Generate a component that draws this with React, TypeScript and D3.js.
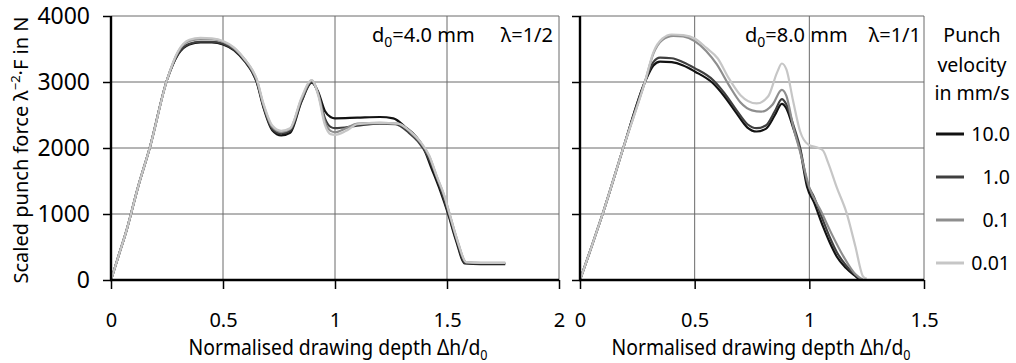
import React, { useEffect, useRef } from "react"
import * as d3 from "d3"

type Pt = [number, number]

// punch velocity series (mm/s) and their grey tones
const velocities = ["10.0", "1.0", "0.1", "0.01"]
const greys = ["#121212", "#3f3f3f", "#8e8e8e", "#c6c6c6"]

const yTicks = [0, 1000, 2000, 3000, 4000]
const leftTicks = [0, 0.5, 1, 1.5, 2]
const rightTicks = [0, 0.5, 1, 1.5]

// d0 = 4.0 mm, lambda = 1/2
const left10: Pt[] = [[0,0],[0.035,380],[0.07,760],[0.12,1400],[0.174,2015],[0.25,3030],[0.3,3420],[0.35,3570],[0.4,3600],[0.45,3600],[0.5,3570],[0.55,3480],[0.6,3300],[0.63,3150],[0.65,3000],[0.68,2620],[0.72,2270],[0.76,2190],[0.8,2230],[0.85,2700],[0.896,2990],[0.925,2850],[0.955,2560],[0.98,2470],[1.0,2450],[1.1,2460],[1.2,2470],[1.26,2450],[1.32,2300],[1.36,2180],[1.393,2020],[1.43,1700],[1.47,1350],[1.505,1000],[1.54,600],[1.58,250],[1.65,240],[1.76,240]]
const left1: Pt[] = [[0,0],[0.035,380],[0.07,760],[0.12,1400],[0.174,2015],[0.25,3030],[0.3,3430],[0.35,3580],[0.4,3610],[0.45,3610],[0.5,3580],[0.55,3490],[0.6,3310],[0.63,3160],[0.65,3010],[0.68,2640],[0.72,2290],[0.76,2220],[0.8,2260],[0.85,2710],[0.896,3000],[0.925,2830],[0.955,2450],[0.98,2320],[1.0,2300],[1.1,2340],[1.2,2370],[1.27,2360],[1.33,2230],[1.37,2100],[1.41,1900],[1.45,1580],[1.48,1300],[1.51,970],[1.545,580],[1.58,260],[1.65,250],[1.76,250]]
const left01: Pt[] = [[0,0],[0.035,380],[0.07,760],[0.12,1400],[0.174,2015],[0.25,3030],[0.3,3460],[0.35,3620],[0.4,3650],[0.45,3650],[0.5,3610],[0.55,3510],[0.6,3330],[0.63,3180],[0.65,3040],[0.68,2660],[0.72,2320],[0.76,2240],[0.8,2290],[0.85,2740],[0.896,3020],[0.925,2820],[0.955,2400],[0.98,2260],[1.0,2240],[1.05,2300],[1.1,2370],[1.2,2380],[1.28,2370],[1.34,2230],[1.38,2090],[1.42,1880],[1.455,1560],[1.49,1250],[1.515,960],[1.55,560],[1.585,270],[1.65,260],[1.76,260]]
const left001: Pt[] = [[0,0],[0.035,380],[0.07,760],[0.12,1400],[0.174,2015],[0.25,3030],[0.3,3470],[0.35,3640],[0.4,3670],[0.45,3660],[0.5,3620],[0.55,3520],[0.6,3330],[0.63,3190],[0.65,3050],[0.68,2680],[0.72,2340],[0.76,2260],[0.8,2300],[0.85,2760],[0.896,3030],[0.925,2800],[0.955,2350],[0.98,2210],[1.0,2200],[1.05,2260],[1.1,2360],[1.2,2380],[1.28,2370],[1.34,2240],[1.38,2100],[1.42,1890],[1.455,1570],[1.49,1260],[1.515,960],[1.55,560],[1.585,270],[1.65,260],[1.76,260]]

// d0 = 8.0 mm, lambda = 1/1
const right10: Pt[] = [[0,0],[0.05,500],[0.1,1015],[0.19,2015],[0.283,3000],[0.32,3250],[0.349,3310],[0.4,3300],[0.45,3250],[0.5,3160],[0.58,2980],[0.63,2780],[0.683,2525],[0.73,2310],[0.77,2250],[0.81,2290],[0.85,2500],[0.88,2670],[0.9,2600],[0.93,2300],[0.96,1970],[0.99,1415],[1.02,1180],[1.06,808],[1.09,560],[1.12,353],[1.16,180],[1.207,40],[1.22,0]]
const right1: Pt[] = [[0,0],[0.05,500],[0.1,1015],[0.19,2015],[0.283,3000],[0.32,3300],[0.349,3370],[0.4,3360],[0.45,3300],[0.5,3210],[0.58,3030],[0.63,2830],[0.683,2570],[0.73,2360],[0.77,2300],[0.81,2340],[0.85,2560],[0.88,2740],[0.9,2660],[0.93,2350],[0.96,2000],[0.99,1480],[1.02,1260],[1.06,900],[1.09,640],[1.12,420],[1.16,220],[1.21,50],[1.225,0]]
const right01: Pt[] = [[0,0],[0.05,500],[0.1,1015],[0.19,2015],[0.283,3000],[0.32,3430],[0.36,3640],[0.407,3700],[0.45,3690],[0.5,3620],[0.55,3470],[0.596,3270],[0.65,2950],[0.7,2690],[0.75,2570],[0.79,2550],[0.84,2660],[0.88,2880],[0.9,2790],[0.93,2320],[0.96,1940],[1.0,1400],[1.05,1050],[1.1,680],[1.15,350],[1.2,90],[1.235,0]]
const right001: Pt[] = [[0,0],[0.05,500],[0.1,1015],[0.19,2015],[0.283,3000],[0.32,3450],[0.36,3660],[0.4,3720],[0.45,3710],[0.5,3660],[0.55,3520],[0.6,3360],[0.65,3050],[0.7,2800],[0.77,2675],[0.82,2780],[0.86,3150],[0.88,3280],[0.9,3190],[0.93,2700],[0.96,2250],[0.996,2050],[1.04,2000],[1.06,1960],[1.083,1768],[1.12,1400],[1.163,1010],[1.2,520],[1.235,50],[1.25,20]]

const leftSeries = [left10, left1, left01, left001]
const rightSeries = [right10, right1, right01, right001]

const font = "'Noto Sans', 'Open Sans', sans-serif"

export default function App() {
  const ref = useRef<SVGSVGElement>(null)

  useEffect(() => {
    const svg = d3.select(ref.current)
    svg.selectAll("*").remove()

    const y = d3.scaleLinear().domain([0, 4000]).range([280, 16])

    const panels = [
      { x: d3.scaleLinear().domain([0, 2]).range([111, 559]), ticks: leftTicks, series: leftSeries, labels: true,
        note: "4.0 mm", lam: "λ=1/2", noteX: 372, lamX: 553, titleX: 338 },
      { x: d3.scaleLinear().domain([0, 1.5]).range([580, 924]), ticks: rightTicks, series: rightSeries, labels: false,
        note: "8.0 mm", lam: "λ=1/1", noteX: 745, lamX: 921, titleX: 761 },
    ]

    panels.forEach((p) => {
      const g = svg.append("g")
      const [x0, x1] = p.x.range()

      // grid
      g.append("g").selectAll("line").data(yTicks.slice(1)).enter().append("line")
        .attr("x1", x0).attr("x2", x1).attr("y1", d => y(d)).attr("y2", d => y(d))
        .attr("stroke", "#6a6a6a").attr("stroke-width", 1)
      g.append("g").selectAll("line").data(p.ticks.slice(1)).enter().append("line")
        .attr("x1", d => p.x(d)).attr("x2", d => p.x(d)).attr("y1", y(4000)).attr("y2", y(0))
        .attr("stroke", "#6a6a6a").attr("stroke-width", 1)

      // curves
      const line = d3.line<Pt>().x(d => p.x(d[0])).y(d => y(d[1])).curve(d3.curveMonotoneX)
      p.series.forEach((s, i) => {
        g.append("path").attr("d", line(s)).attr("fill", "none")
          .attr("stroke", greys[i]).attr("stroke-width", 2.2).attr("stroke-linejoin", "round")
      })

      // axes
      const yAxis = d3.axisLeft(y).tickValues(yTicks).tickSize(8).tickFormat(p.labels ? (d3.format("d") as any) : () => "")
      const ya = g.append("g").attr("transform", `translate(${x0},0)`).call(yAxis)
      ya.select(".domain").remove()
      ya.selectAll(".tick line").attr("stroke", "#000").attr("stroke-width", 1.5)
      ya.selectAll(".tick text").attr("x", -21).attr("font-size", 23).attr("font-family", font).attr("fill", "#000")

      const xAxis = d3.axisBottom(p.x).tickValues(p.ticks).tickSize(9).tickFormat(d3.format("") as any)
      const xa = g.append("g").attr("transform", `translate(0,${y(0)})`).call(xAxis)
      xa.select(".domain").remove()
      xa.selectAll(".tick line").attr("stroke", "#000").attr("stroke-width", 1.5)
      xa.selectAll(".tick text").attr("y", 33).attr("dy", "0.71em").attr("font-size", 20)
        .attr("font-family", font).attr("fill", "#000")

      g.append("line").attr("x1", x0).attr("x2", x0).attr("y1", y(4000)).attr("y2", y(0) + 1)
        .attr("stroke", "#000").attr("stroke-width", 2.4)
      g.append("line").attr("x1", x0 - 1).attr("x2", x1).attr("y1", y(0)).attr("y2", y(0))
        .attr("stroke", "#000").attr("stroke-width", 2.4)

      // x title (condensed look)
      const xt = g.append("text").attr("transform", `translate(${p.titleX},355) scale(0.9,1)`).attr("text-anchor", "middle")
        .attr("font-size", 21.5).attr("font-family", font).attr("fill", "#000")
      xt.append("tspan").text("Normalised drawing depth Δh/d")
      xt.append("tspan").attr("dy", 5).attr("font-size", 14).text("0")

      // note
      const nt = g.append("text").attr("x", p.noteX).attr("y", 42)
        .attr("font-size", 20).attr("font-family", font).attr("fill", "#000")
      nt.append("tspan").text("d")
      nt.append("tspan").attr("dy", 5).attr("font-size", 14).text("0")
      nt.append("tspan").attr("dy", -5).text("=" + p.note)
      g.append("text").attr("x", p.lamX).attr("y", 42).attr("text-anchor", "end")
        .attr("font-size", 20).attr("font-family", font).attr("fill", "#000").text(p.lam)
    })

    // y title
    const yt = svg.append("text").attr("transform", "translate(28,150) rotate(-90)").attr("text-anchor", "middle")
      .attr("font-size", 20).attr("font-family", font).attr("fill", "#000")
    yt.append("tspan").text("Scaled punch force λ")
    yt.append("tspan").attr("dy", -8).attr("font-size", 13).text("−2")
    yt.append("tspan").attr("dy", 8).text("·F in N")

    // legend
    const lg = svg.append("g")
    ;["Punch", "velocity", "in mm/s"].forEach((t, i) => {
      lg.append("text").attr("x", 972).attr("y", [42, 72, 100][i]).attr("text-anchor", "middle")
        .attr("font-size", 19.5).attr("font-family", font).attr("fill", "#000").text(t)
    })
    const ly = d3.scalePoint<string>().domain(velocities).range([134, 263])
    velocities.forEach((v, i) => {
      lg.append("line").attr("x1", 936).attr("x2", 964).attr("y1", ly(v)!).attr("y2", ly(v)!)
        .attr("stroke", greys[i]).attr("stroke-width", 3)
      lg.append("text").attr("x", 1010).attr("y", ly(v)!).attr("dy", "0.36em").attr("text-anchor", "end")
        .attr("font-size", 19.5).attr("font-family", font).attr("fill", "#000").text(v)
    })
  }, [])

  return <svg ref={ref} width={1016} height={363} style={{ position: "absolute", left: 0, top: 0, background: "#fff" }} />
}
